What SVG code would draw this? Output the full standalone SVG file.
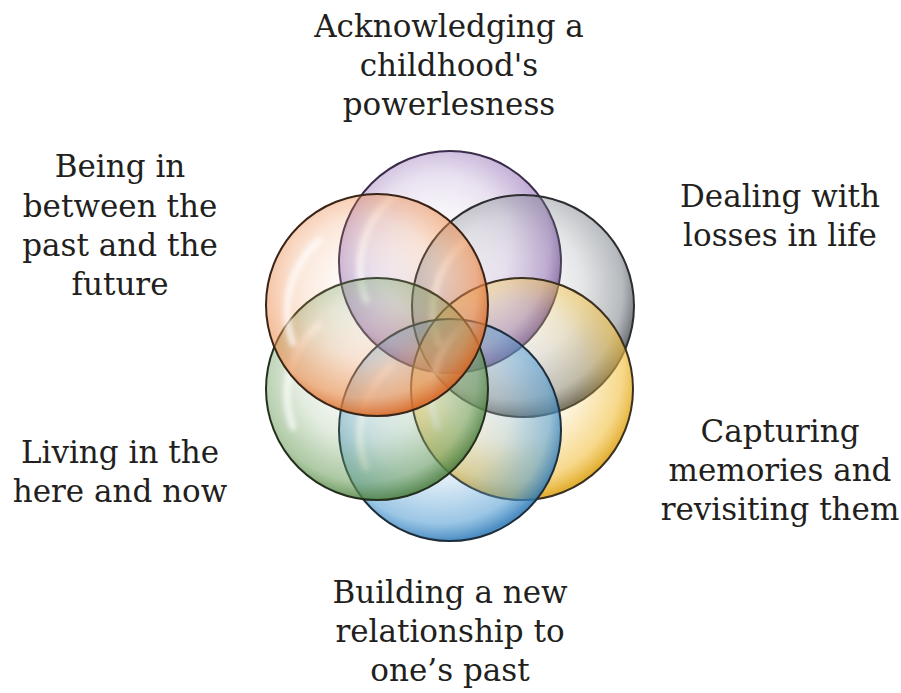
<svg xmlns="http://www.w3.org/2000/svg" width="901" height="693" viewBox="0 0 901 693">
<style>
.lbl{font-family:"DejaVu Serif","Liberation Serif",serif;font-size:31px;fill:#231f20;text-anchor:middle}
.ring{stroke-width:2}
.hl{fill:none;stroke:#ffffff;stroke-width:7;stroke-linecap:round;opacity:0.7}
</style>
<defs>
<filter id="blur" x="-20%" y="-20%" width="140%" height="140%"><feGaussianBlur stdDeviation="2.5"/></filter>
<radialGradient id="gP" cx="0.45" cy="0.42" r="0.58"><stop offset="0" stop-color="#ffffff" stop-opacity="0.1"/><stop offset="0.55" stop-color="#8a62b0" stop-opacity="0.2"/><stop offset="0.86" stop-color="#8a62b0" stop-opacity="0.55"/><stop offset="1" stop-color="#6e4a92" stop-opacity="0.85"/></radialGradient>
<radialGradient id="gG" cx="0.45" cy="0.42" r="0.58"><stop offset="0" stop-color="#ffffff" stop-opacity="0.1"/><stop offset="0.55" stop-color="#7a8088" stop-opacity="0.2"/><stop offset="0.86" stop-color="#7a8088" stop-opacity="0.55"/><stop offset="1" stop-color="#4a4f55" stop-opacity="0.85"/></radialGradient>
<radialGradient id="gY" cx="0.45" cy="0.42" r="0.58"><stop offset="0" stop-color="#ffffff" stop-opacity="0.1"/><stop offset="0.55" stop-color="#f2c040" stop-opacity="0.2"/><stop offset="0.86" stop-color="#f2c040" stop-opacity="0.6"/><stop offset="1" stop-color="#e0a820" stop-opacity="0.9"/></radialGradient>
<radialGradient id="gB" cx="0.45" cy="0.42" r="0.58"><stop offset="0" stop-color="#ffffff" stop-opacity="0.1"/><stop offset="0.55" stop-color="#4a98d0" stop-opacity="0.2"/><stop offset="0.86" stop-color="#4a98d0" stop-opacity="0.55"/><stop offset="1" stop-color="#2e7ab8" stop-opacity="0.85"/></radialGradient>
<radialGradient id="gN" cx="0.45" cy="0.42" r="0.58"><stop offset="0" stop-color="#ffffff" stop-opacity="0.1"/><stop offset="0.55" stop-color="#6a9c58" stop-opacity="0.2"/><stop offset="0.86" stop-color="#6a9c58" stop-opacity="0.55"/><stop offset="1" stop-color="#4d8040" stop-opacity="0.85"/></radialGradient>
<radialGradient id="gO" cx="0.45" cy="0.42" r="0.58"><stop offset="0" stop-color="#ffffff" stop-opacity="0.1"/><stop offset="0.55" stop-color="#ec8a4a" stop-opacity="0.22"/><stop offset="0.86" stop-color="#ec8a4a" stop-opacity="0.6"/><stop offset="1" stop-color="#d86a28" stop-opacity="0.9"/></radialGradient>
</defs>
<rect width="901" height="693" fill="#ffffff"/>

<g id="circle-purple">
<circle class="ring" cx="450" cy="262" r="111" fill="url(#gP)" stroke="#3a2c4a"/>
<path class="hl" filter="url(#blur)" d="M 366 300 A 92 92 0 0 1 392 198"/>
</g>
<g id="circle-gray">
<circle class="ring" cx="523" cy="306" r="111" fill="url(#gG)" stroke="#2c2e32"/>
<path class="hl" filter="url(#blur)" d="M 439 344 A 92 92 0 0 1 465 242"/>
</g>
<g id="circle-yellow">
<circle class="ring" cx="522" cy="389" r="111" fill="url(#gY)" stroke="#3a3020"/>
<path class="hl" filter="url(#blur)" d="M 438 427 A 92 92 0 0 1 464 325"/>
</g>
<g id="circle-blue">
<circle class="ring" cx="450" cy="430" r="111" fill="url(#gB)" stroke="#1e2e3c"/>
<path class="hl" filter="url(#blur)" d="M 366 468 A 92 92 0 0 1 392 366"/>
</g>
<g id="circle-green">
<circle class="ring" cx="377" cy="389" r="111" fill="url(#gN)" stroke="#24301e"/>
<path class="hl" filter="url(#blur)" d="M 293 427 A 92 92 0 0 1 319 325"/>
</g>
<g id="circle-orange">
<circle class="ring" cx="377" cy="305" r="111" fill="url(#gO)" stroke="#3a2418"/>
<path class="hl" filter="url(#blur)" d="M 293 343 A 92 92 0 0 1 319 241"/>
</g>

<g id="connectors"></g>

<g id="label-top">
<text class="lbl" x="449" y="37">Acknowledging a</text>
<text class="lbl" x="449" y="76">childhood's</text>
<text class="lbl" x="449" y="115">powerlesness</text>
</g>
<g id="label-upper-left">
<text class="lbl" x="120" y="177">Being in</text>
<text class="lbl" x="120" y="217">between the</text>
<text class="lbl" x="120" y="256">past and the</text>
<text class="lbl" x="120" y="295">future</text>
</g>
<g id="label-upper-right">
<text class="lbl" x="780" y="207">Dealing with</text>
<text class="lbl" x="780" y="246">losses in life</text>
</g>
<g id="label-lower-left">
<text class="lbl" x="120" y="463">Living in the</text>
<text class="lbl" x="120" y="502">here and now</text>
</g>
<g id="label-lower-right">
<text class="lbl" x="780" y="442">Capturing</text>
<text class="lbl" x="780" y="481">memories and</text>
<text class="lbl" x="780" y="520">revisiting them</text>
</g>
<g id="label-bottom">
<text class="lbl" x="450" y="603">Building a new</text>
<text class="lbl" x="450" y="642">relationship to</text>
<text class="lbl" x="450" y="681">one’s past</text>
</g>
</svg>
